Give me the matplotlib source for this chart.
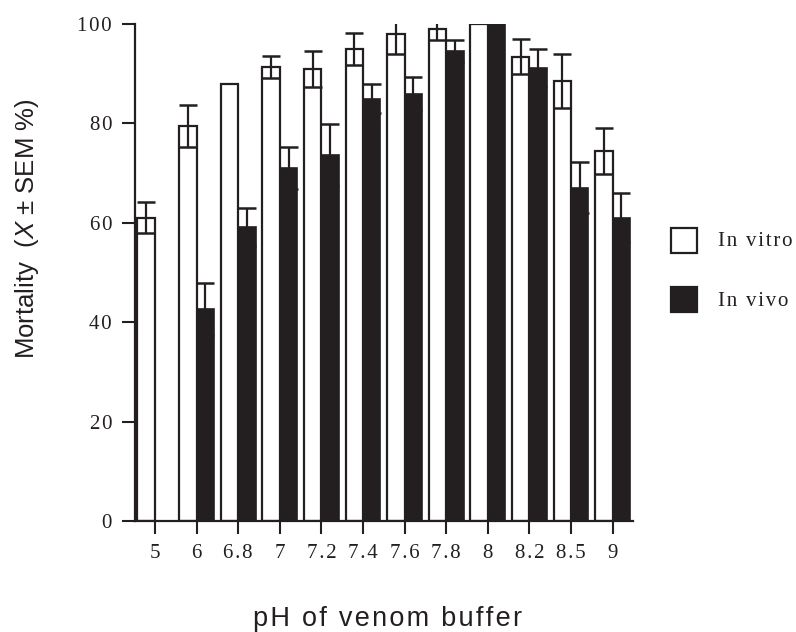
import matplotlib
matplotlib.use('Agg')
from matplotlib import pyplot as plt
from matplotlib.patches import Rectangle
import numpy as np

# data
ph_labels = ['5', '6', '6.8', '7', '7.2', '7.4', '7.6', '7.8', '8', '8.2', '8.5', '9']
in_vitro = [61.0, 79.5, 87.9, 91.4, 90.9, 94.9, 97.9, 98.9, 100.0, 93.4, 88.5, 74.4]
in_vitro_sem = [3.1, 4.2, 0.0, 2.2, 3.6, 3.2, 4.0, 2.1, 0.0, 3.5, 5.5, 4.6]
in_vivo = [0.0, 42.6, 59.1, 71.1, 73.6, 85.0, 86.0, 94.6, 100.0, 91.1, 67.1, 61.0]
in_vivo_sem = [0.0, 5.2, 3.8, 4.2, 6.2, 2.9, 3.4, 2.2, 0.0, 3.8, 5.2, 4.9]
y_ticks = [0, 20, 40, 60, 80, 100]

plt.rcParams['mathtext.fontset'] = 'custom'
plt.rcParams['mathtext.rm'] = 'Liberation Sans'
plt.rcParams['mathtext.it'] = 'Liberation Sans:italic'

dark = '#231f20'
W, H = 796, 632


def spaced(s, sep='\u200a'):
    # the printed figure has loose letter spacing
    return sep.join(s)


fig = plt.figure(figsize=(W / 100, H / 100), dpi=100)
ax = fig.add_axes([135 / W, (H - 521) / H, (633 - 135) / W, (521 - 24) / H])

x = np.arange(len(ph_labels))
bw = 0.42

ax.bar(x, in_vitro, width=-bw, align='edge', facecolor='white', edgecolor=dark, linewidth=1.6, zorder=2)
ax.bar(x, in_vivo, width=bw, align='edge', facecolor=dark, edgecolor=dark, linewidth=1.2, zorder=2)

cap = bw / 2 * 41.6 * 0.72
vit = np.array(in_vitro_sem) > 0
viv = np.array(in_vivo_sem) > 0
ax.errorbar(x[vit] - bw / 2, np.array(in_vitro)[vit], yerr=np.array(in_vitro_sem)[vit],
            fmt='none', ecolor=dark, elinewidth=1.6, capsize=cap, capthick=1.8, zorder=3)
ax.errorbar(x[viv] + bw / 2, np.array(in_vivo)[viv], yerr=np.array(in_vivo_sem)[viv],
            fmt='none', ecolor=dark, elinewidth=1.6, capsize=cap, capthick=1.8, zorder=1)

ax.set_xlim(-0.48, 11.49)
ax.set_ylim(0, 100)
ax.set_xticks(x)
ax.set_xticklabels([spaced(t) for t in ph_labels])
ax.set_yticks(y_ticks)
ax.set_yticklabels([spaced(str(t)) for t in y_ticks])

for s in ['top', 'right']:
    ax.spines[s].set_visible(False)
for s in ['left', 'bottom']:
    ax.spines[s].set_linewidth(1.6)
    ax.spines[s].set_color(dark)
ax.tick_params(direction='out', length=9.5, width=1.5, color=dark, labelsize=15)
ax.tick_params(axis='x', pad=7)
ax.tick_params(axis='y', pad=7)
for lab in ax.get_xticklabels() + ax.get_yticklabels():
    lab.set_fontfamily('Liberation Serif')
    lab.set_color(dark)

fig.text(27 / W, 1 - 229 / H, r'Mortality  ($\it{X}$ ± SEM %)', rotation=90,
         ha='center', va='center', fontsize=18.5, family='Liberation Sans', color=dark)
fig.text(388 / W, 1 - 619 / H, spaced('pH of venom buffer'), ha='center', va='center',
         fontsize=19.5, family='Liberation Sans', color=dark)

# legend
fig.add_artist(Rectangle((671 / W, 1 - 253 / H), 26 / W, 25 / H, transform=fig.transFigure,
                         facecolor='white', edgecolor=dark, linewidth=1.6))
fig.add_artist(Rectangle((671 / W, 1 - 312 / H), 26 / W, 25 / H, transform=fig.transFigure,
                         facecolor=dark, edgecolor=dark, linewidth=1.6))
fig.text(718 / W, 1 - 241 / H, spaced('In vitro'), ha='left', va='center', fontsize=15,
         family='Liberation Serif', color=dark)
fig.text(718 / W, 1 - 301 / H, spaced('In vivo'), ha='left', va='center', fontsize=15,
         family='Liberation Serif', color=dark)

fig.savefig('out.png', dpi=100)
